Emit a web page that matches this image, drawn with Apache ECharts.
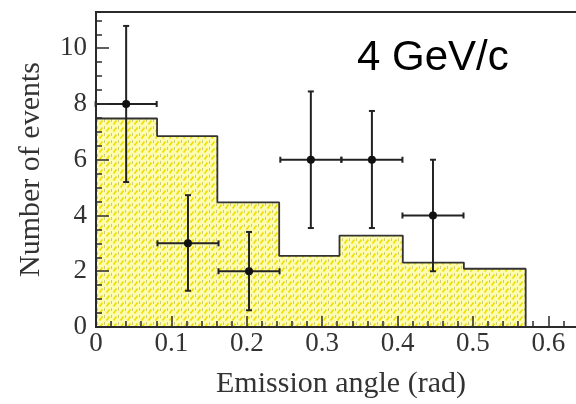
<!DOCTYPE html>
<html><head><meta charset="utf-8">
<script src="https://cdn.jsdelivr.net/npm/echarts@6/dist/echarts.min.js"></script>
<style>html,body{margin:0;padding:0;background:#fff}#c{width:576px;height:404px}</style>
</head><body><div id="c"></div>
<script>
// Histogram (yellow hatched) – bin edges and contents
const binEdges = [0, 0.081, 0.161, 0.243, 0.323, 0.407, 0.488, 0.570];
const binCounts = [7.48, 6.85, 4.47, 2.55, 3.28, 2.31, 2.09];
// Data points with error bars
const pointX = [0.040, 0.122, 0.203, 0.285, 0.366, 0.447];
const pointY = [8, 3, 2, 6, 6, 4];
const xErr = [0.0405, 0.0405, 0.0405, 0.0405, 0.0405, 0.0405];
const yLow = [5.2, 1.3, 0.6, 3.55, 3.55, 2.0];
const yHigh = [10.8, 4.73, 3.41, 8.45, 7.75, 6.0];
// Axis ranges / ticks
const xMax = 0.65, xMajor = 0.1, xMinor = 0.02;
const yMax = 11.3, yMajor = 2, yMinor = 0.5;
const xTitle = 'Emission angle (rad)';
const yTitle = 'Number of events';
const label = '4 GeV/c';

function makeHatch(){
  const c = document.createElement('canvas'); c.width = 7; c.height = 7;
  const g = c.getContext('2d');
  g.fillStyle = '#fdfcb0'; g.fillRect(0,0,7,7);
  g.strokeStyle = '#eedf00'; g.lineWidth = 1.7;
  g.beginPath(); g.moveTo(1.5,5.5); g.lineTo(4.5,1.5); g.stroke();
  g.strokeStyle = '#cccc88'; g.lineWidth = 1;
  g.beginPath(); g.moveTo(6.5,0); g.lineTo(6.5,3); g.stroke();
  return c;
}

const histData = binEdges.map((e,i)=>[e, binCounts[Math.min(i, binCounts.length-1)]]);
histData.push([binEdges[binEdges.length-1], 0]);
const pts = pointX.map((x,i)=>[x, pointY[i], xErr[i], yLow[i], yHigh[i]]);

const serif = '"Liberation Serif", "DejaVu Serif", serif';
const ink = '#2b2b2b';
const chart = echarts.init(document.getElementById('c'), null, {renderer:'canvas'});
chart.setOption({
  animation: false,
  grid: {left: 96, top: 12, width: 490, height: 315, show: true, z: 10,
         outerBoundsMode: 'none', containLabel: false,
         backgroundColor: 'transparent', borderColor: ink, borderWidth: 2},
  xAxis: [
    {type:'value', min:0, max:xMax, interval:xMajor, position:'bottom', z:10,
     axisLine:{show:false}, splitLine:{show:false},
     axisTick:{inside:true, length:11, lineStyle:{color:ink, width:1.5}},
     axisLabel:{margin:3, showMaxLabel:false, fontFamily:serif, fontSize:27, color:'#333'},
     name:xTitle, nameLocation:'middle', nameGap:42,
     nameTextStyle:{fontFamily:serif, fontSize:30, color:'#333'}},
    {type:'value', min:0, max:xMax, interval:xMinor, position:'bottom', z:10,
     axisLine:{show:false}, splitLine:{show:false}, axisLabel:{show:false},
     axisTick:{inside:true, length:6, lineStyle:{color:ink, width:1.5}}}
  ],
  yAxis: [
    {type:'value', min:0, max:yMax, interval:yMajor, position:'left', z:10,
     axisLine:{show:false}, splitLine:{show:false},
     axisTick:{inside:true, length:13, lineStyle:{color:ink, width:1.5}},
     axisLabel:{margin:9, showMaxLabel:false, fontFamily:serif, fontSize:27, color:'#333'},
     name:yTitle, nameLocation:'middle', nameGap:50, nameRotate:90,
     nameTextStyle:{fontFamily:serif, fontSize:30, color:'#333'}},
    {type:'value', min:0, max:yMax, interval:yMinor, position:'left', z:10,
     axisLine:{show:false}, splitLine:{show:false}, axisLabel:{show:false},
     axisTick:{inside:true, length:6, lineStyle:{color:ink, width:1.5}}}
  ],
  graphic: [{type:'text', x:357, y:58, z:20,
    style:{text:label, font:'42px "Liberation Sans", Arial, sans-serif', fill:'#000', verticalAlign:'middle'}}],
  series: [
    {type:'line', xAxisIndex:0, yAxisIndex:0, step:'end', data:histData, symbol:'none', z:2,
     lineStyle:{color:'#333', width:1.8},
     areaStyle:{color:{image:makeHatch(), repeat:'repeat'}, opacity:1}},
    {type:'custom', xAxisIndex:0, yAxisIndex:0, data:pts, z:5, clip:false,
     renderItem:function(params, api){
       const x = api.value(0), y = api.value(1), xe = api.value(2), lo = api.value(3), hi = api.value(4);
       const c = api.coord([x, y]);
       const l = api.coord([x - xe, y]), r = api.coord([x + xe, y]);
       const t = api.coord([x, hi]), b = api.coord([x, lo]);
       const st = {stroke:'#222', lineWidth:2};
       const cap = 3;
       return {type:'group', children:[
         {type:'line', shape:{x1:l[0], y1:c[1], x2:r[0], y2:c[1]}, style:st},
         {type:'line', shape:{x1:c[0], y1:t[1], x2:c[0], y2:b[1]}, style:st},
         {type:'line', shape:{x1:l[0], y1:c[1]-cap, x2:l[0], y2:c[1]+cap}, style:st},
         {type:'line', shape:{x1:r[0], y1:c[1]-cap, x2:r[0], y2:c[1]+cap}, style:st},
         {type:'line', shape:{x1:c[0]-cap, y1:t[1], x2:c[0]+cap, y2:t[1]}, style:st},
         {type:'line', shape:{x1:c[0]-cap, y1:b[1], x2:c[0]+cap, y2:b[1]}, style:st},
         {type:'circle', shape:{cx:c[0], cy:c[1], r:4}, style:{fill:'#111'}}
       ]};
     }}
  ]
});
</script></body></html>
